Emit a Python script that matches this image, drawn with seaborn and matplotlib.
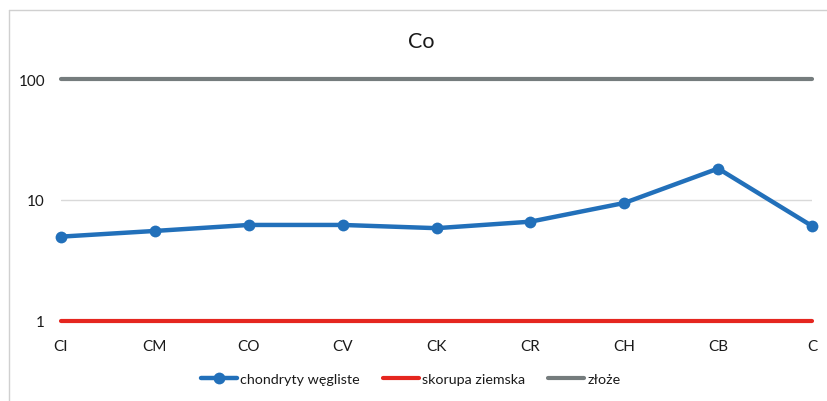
import matplotlib
matplotlib.use("Agg")
import matplotlib.pyplot as plt
from matplotlib.lines import Line2D
import seaborn as sns
import pandas as pd

categories = ["CI", "CM", "CO", "CV", "CK", "CR", "CH", "CB", "C"]
chondryty = [4.98, 5.55, 6.22, 6.22, 5.85, 6.62, 9.45, 18.2, 6.1]
skorupa = [1, 1, 1, 1, 1, 1, 1, 1, 1]
zloze = [100, 100, 100, 100, 100, 100, 100, 100, 100]
yticks = [1, 10, 100]
series_names = ["chondryty węgliste", "skorupa ziemska", "złoże"]

sns.set_theme(style="white")
plt.rcParams["font.family"] = ["Lato", "DejaVu Sans"]

BLUE = "#2270BA"
RED = "#E5261F"
GRAY = "#757C7D"

df = pd.DataFrame({"x": list(range(len(categories))),
                   "chondryty": chondryty, "skorupa": skorupa, "zloze": zloze})

fig = plt.figure(figsize=(8.27, 4.02), dpi=100)
ax = fig.add_axes([61/827, 1-322/402, (812-61)/827, (322-80)/402])

sns.lineplot(data=df, x="x", y="zloze", ax=ax, color=GRAY, linewidth=3, clip_on=False, zorder=3)
sns.lineplot(data=df, x="x", y="skorupa", ax=ax, color=RED, linewidth=3, clip_on=False, zorder=3)
sns.lineplot(data=df, x="x", y="chondryty", ax=ax, color=BLUE, linewidth=3.2,
             marker="o", markersize=8.5, markeredgewidth=0, clip_on=False, zorder=4)

ax.set_yscale("log")
ax.set_ylim(1, 100)
ax.set_xlim(0, len(categories) - 1)
ax.set_yticks(yticks)
ax.set_yticklabels([str(v) for v in yticks])
ax.minorticks_off()
ax.set_xticks(range(len(categories)))
ax.set_xticklabels(categories)
ax.tick_params(axis="both", length=0, labelsize=11, labelcolor="#1a1a1a")
ax.tick_params(axis="y", pad=11.5)
ax.tick_params(axis="x", pad=13)
ax.yaxis.grid(True, color="#D9D9D9", linewidth=1)
ax.xaxis.grid(False)
ax.set_xlabel("")
ax.set_ylabel("")
for s in ax.spines.values():
    s.set_visible(False)

fig.text(421/827, 1-42/402, "Co", ha="center", va="center", fontsize=15.5, color="#1a1a1a")

handles = [
    Line2D([], [], color=BLUE, linewidth=3.2, marker="o", markersize=8.5, markeredgewidth=0),
    Line2D([], [], color=RED, linewidth=3),
    Line2D([], [], color=GRAY, linewidth=3),
]
leg = fig.legend(handles, series_names, loc="center", bbox_to_anchor=(410.5/827, 1-380/402),
                 ncol=3, frameon=False, fontsize=10.3, handlelength=2.55, handletextpad=0.2,
                 columnspacing=1.6, borderpad=0)
for t in leg.get_texts():
    t.set_color("#1a1a1a")

# chart frame (top and left edges visible)
fig.add_artist(Line2D([9/827, 9/827], [0, 1-11/402], transform=fig.transFigure, color="#D0D0D0", linewidth=1))
fig.add_artist(Line2D([9/827, 1], [1-11/402, 1-11/402], transform=fig.transFigure, color="#D0D0D0", linewidth=1))

fig.savefig("out.png", dpi=100, facecolor="white")
